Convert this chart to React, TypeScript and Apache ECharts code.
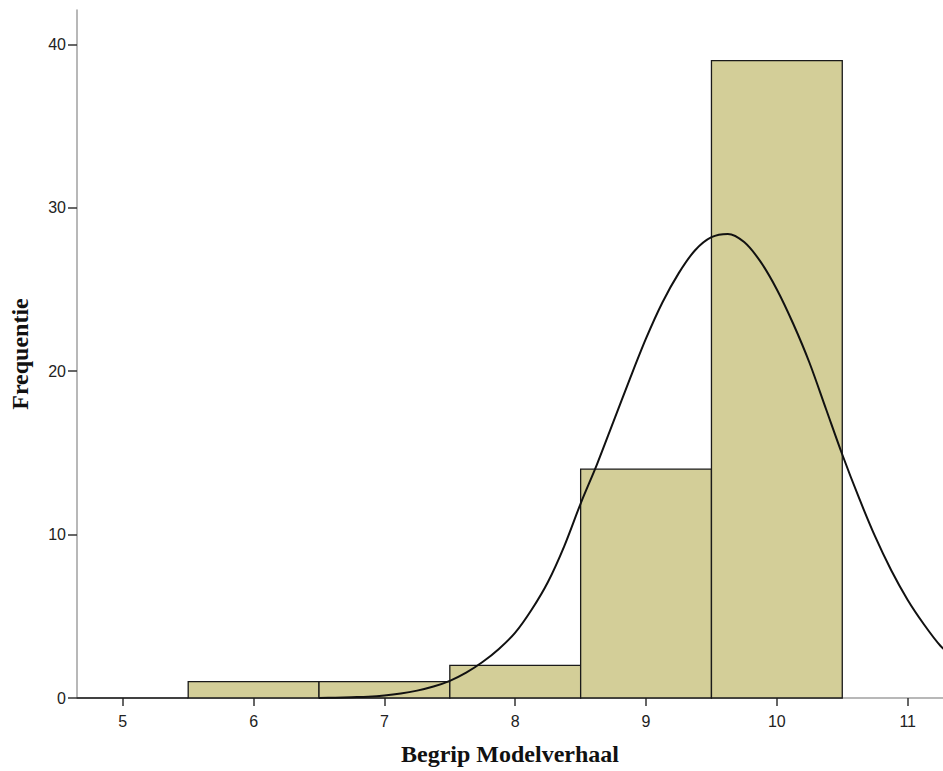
import React, { useEffect, useRef } from "react";
import * as echarts from "echarts";

const binStarts = [4.5, 5.5, 6.5, 7.5, 8.5, 9.5];
const binEnds = [5.5, 6.5, 7.5, 8.5, 9.5, 10.5];
const frequencies = [0, 1, 1, 2, 14, 39];

const xTickValues = [5, 6, 7, 8, 9, 10, 11];
const yTickValues = [0, 10, 20, 30, 40];

const curveX = [
  6.5, 6.625, 6.75, 6.875, 7.0, 7.125, 7.25, 7.375, 7.5, 7.625, 7.75, 7.875, 8.0, 8.125, 8.25, 8.375, 8.5, 8.625, 8.75, 8.875,
  9.0, 9.125, 9.25, 9.375, 9.5, 9.625, 9.75, 9.875, 10.0, 10.125, 10.25, 10.375,
  10.5, 10.625, 10.75, 10.875, 11.0, 11.125, 11.25, 11.375, 11.5,
];
const curveY = [
  0.0, 0.02, 0.05, 0.08, 0.15, 0.27, 0.45, 0.7, 1.05, 1.55, 2.2, 3.0, 4.0, 5.4, 7.1, 9.3, 11.9, 14.3, 16.9, 19.5,
  22.0, 24.2, 26.0, 27.4, 28.2, 28.4, 27.9, 26.7, 25.0, 22.9, 20.5, 17.7,
  14.9, 12.3, 9.9, 7.8, 6.0, 4.5, 3.2, 2.3, 1.5,
];

export default function App() {
  const ref = useRef<HTMLDivElement>(null);
  useEffect(() => {
    if (!ref.current) return;
    const chart = echarts.init(ref.current, undefined, { renderer: "svg" });
    const binData = binStarts.map((s, i) => [s, binEnds[i], frequencies[i]]);
    const curveData = curveX.map((x, i) => [x, curveY[i]]);
    chart.setOption({
      animation: false,
      backgroundColor: "#ffffff",
      grid: { left: 75, right: 0, top: 10, bottom: 72, containLabel: false },
      xAxis: {
        type: "value",
        min: 4.65,
        max: 11.27,
        axisLine: { show: true, onZero: false, lineStyle: { color: "#a0a0a0", width: 1.5 } },
        axisTick: { show: true, customValues: xTickValues, length: 8, lineStyle: { color: "#333", width: 1.5 } },
        axisLabel: { customValues: xTickValues, fontSize: 16, color: "#222", fontFamily: "Liberation Sans", margin: 15 },
        splitLine: { show: false },
        name: "Begrip Modelverhaal",
        nameLocation: "middle",
        nameGap: 44,
        nameTextStyle: { fontWeight: "bold", fontFamily: "Liberation Serif", fontSize: 24, color: "#111" },
      },
      yAxis: {
        type: "value",
        min: 0,
        max: 42.1,
        axisLine: { show: true, lineStyle: { color: "#a0a0a0", width: 1.5 } },
        axisTick: { show: true, customValues: yTickValues, length: 9, lineStyle: { color: "#333", width: 1.5 } },
        axisLabel: { customValues: yTickValues, fontSize: 16, color: "#222", fontFamily: "Liberation Sans", margin: 11 },
        splitLine: { show: false },
        name: "Frequentie",
        nameLocation: "middle",
        nameGap: 45,
        nameTextStyle: { fontWeight: "bold", fontFamily: "Liberation Serif", fontSize: 24, color: "#111" },
      },
      series: [
        {
          type: "custom",
          data: binData,
          z: 2,
          renderItem: (params: any, api: any) => {
            const cs = params.coordSys;
            const p0 = api.coord([api.value(0), 0]);
            const p1 = api.coord([api.value(1), api.value(2)]);
            const x0 = Math.max(p0[0], cs.x);
            const x1 = Math.min(p1[0], cs.x + cs.width);
            if (api.value(2) === 0) {
              return {
                type: "line",
                shape: { x1: x0, y1: p0[1], x2: x1, y2: p0[1] },
                style: { stroke: "#1a1a1a", lineWidth: 1.5 },
              };
            }
            return {
              type: "rect",
              shape: { x: x0, y: p1[1], width: x1 - x0, height: p0[1] - p1[1] },
              style: { fill: "#d3ce98", stroke: "#1a1a1a", lineWidth: 1.3 },
            };
          },
        },
        {
          type: "line",
          data: curveData,
          smooth: 0.3,
          showSymbol: false,
          clip: true,
          z: 3,
          lineStyle: { color: "#111", width: 2 },
          itemStyle: { color: "#111" },
        },
      ],
    });
    return () => chart.dispose();
  }, []);
  return <div ref={ref} style={{ width: 943, height: 771, position: "absolute", left: 0, top: 0 }} />;
}
